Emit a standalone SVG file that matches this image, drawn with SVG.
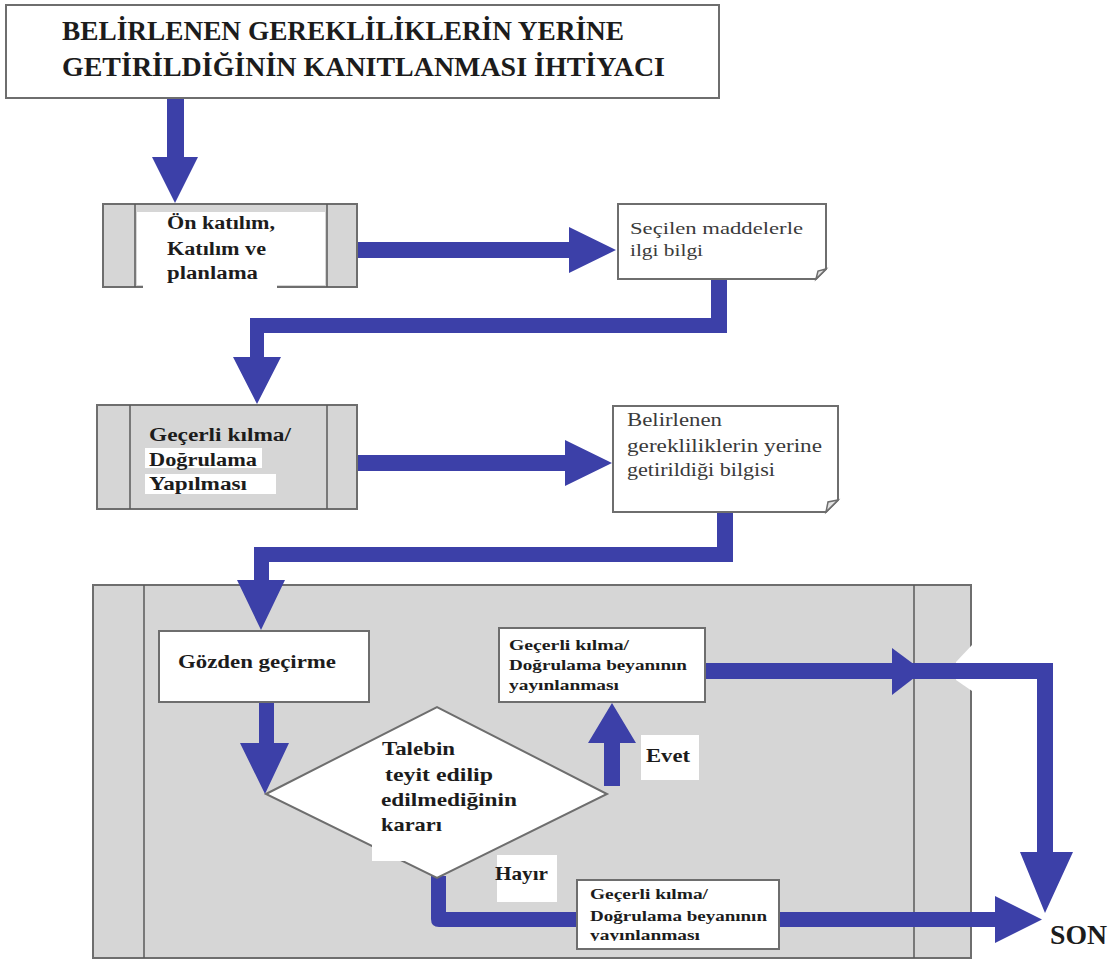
<svg xmlns="http://www.w3.org/2000/svg" width="1118" height="961" viewBox="0 0 1118 961">
<style>
.box{fill:#fff;stroke:#6e6e6e;stroke-width:2}
.gray{fill:#d6d6d6;stroke:#6e6e6e;stroke-width:2}
.ln{stroke:#5a5a5a;stroke-width:1.5;fill:none}
.arr{fill:#3c40a8}
.t{font-family:"Liberation Serif","DejaVu Serif",serif;font-weight:bold;fill:#1c1c1c}
.d{font-family:"Liberation Serif","DejaVu Serif",serif;fill:#3a3a3a}
.w{fill:#fff}
.fold{fill:#e4e4e4;stroke:#6e6e6e;stroke-width:1.5}
</style>
<defs>
<clipPath id="clipN"><rect x="577" y="880" width="202" height="61"/></clipPath>
</defs>
<rect x="0" y="0" width="1118" height="961" fill="#fff"/>

<g id="container">
<rect class="gray" x="93" y="585" width="878" height="373"/>
<line class="ln" x1="144" y1="585" x2="144" y2="958"/>
<line class="ln" x1="914" y1="585" x2="914" y2="958"/>
<polygon class="w" points="972,645 956,662 956,680 972,691"/>
</g>

<g id="connectors">
<polygon class="arr" points="167,99 184,99 184,157 198,157 175,203 152,157 167,157"/>
<polygon class="arr" points="357,242 569,242 569,227 616,250 569,273 569,258 357,258"/>
<polygon class="arr" points="711,279 727,279 727,333 264,333 264,357 281,357 257,404 233,357 250,357 250,318 711,318"/>
<polygon class="arr" points="357,455 565,455 565,440 612,463 565,486 565,471 357,471"/>
<polygon class="arr" points="717,512 733,512 733,562 269,562 269,580 285,580 261,630 237,580 254,580 254,547 717,547"/>
<polygon class="arr" points="259,701 274,701 274,743 289,743 265,794 240,743 259,743"/>
<polygon class="arr" points="604,786 620,786 620,743 636,743 612,703 588,743 604,743"/>
<path class="arr" d="M705,663 H1053 V852 H1073 L1045,913 L1020,852 H1037 V679 H705 Z"/>
<polygon class="arr" points="892,648 923,671 892,695"/>
<path class="arr" d="M431,876 H446 V912 H995 V896 L1042,919.5 L995,943 V927 H439 Q431,927 431,919 Z"/>
</g>

<g id="node-need">
<rect class="box" x="6" y="5" width="713" height="93"/>
<text class="t" x="62" y="40" font-size="27" textLength="562" lengthAdjust="spacingAndGlyphs">BELİRLENEN GEREKLİLİKLERİN YERİNE</text>
<text class="t" x="62" y="76" font-size="27" textLength="603" lengthAdjust="spacingAndGlyphs">GETİRİLDİĞİNİN KANITLANMASI İHTİYACI</text>
</g>

<g id="node-planning">
<rect class="gray" x="103" y="204" width="254" height="83"/>
<line class="ln" x1="135" y1="204" x2="135" y2="287"/>
<line class="ln" x1="327" y1="204" x2="327" y2="287"/>
<rect class="w" x="137" y="212" width="188" height="73"/>
<rect class="w" x="143" y="283" width="134" height="6"/>
<text class="t" x="167" y="229" font-size="18" textLength="108" lengthAdjust="spacingAndGlyphs">Ön katılım,</text>
<text class="t" x="167" y="255" font-size="18" textLength="99" lengthAdjust="spacingAndGlyphs">Katılım ve</text>
<text class="t" x="167" y="279" font-size="18" textLength="91" lengthAdjust="spacingAndGlyphs">planlama</text>
</g>

<g id="node-info1">
<path class="box" d="M618,204 H826 V269 L816,279 H618 Z"/>
<path class="fold" d="M816,279 L818,271 L826,269 Z"/>
<text class="d" x="630" y="234" font-size="17" textLength="173" lengthAdjust="spacingAndGlyphs">Seçilen maddelerle</text>
<text class="d" x="630" y="256" font-size="17" textLength="73" lengthAdjust="spacingAndGlyphs">ilgi bilgi</text>
</g>

<g id="node-validation">
<rect class="gray" x="97" y="405" width="260" height="104"/>
<line class="ln" x1="130" y1="405" x2="130" y2="509"/>
<line class="ln" x1="327" y1="405" x2="327" y2="509"/>
<rect class="w" x="145" y="448" width="117" height="20"/>
<rect class="w" x="145" y="474" width="131" height="20"/>
<text class="t" x="149" y="441" font-size="18" textLength="142" lengthAdjust="spacingAndGlyphs">Geçerli kılma/</text>
<text class="t" x="149" y="466" font-size="18" textLength="108" lengthAdjust="spacingAndGlyphs">Doğrulama</text>
<text class="t" x="149" y="490" font-size="18" textLength="98" lengthAdjust="spacingAndGlyphs">Yapılması</text>
</g>

<g id="node-info2">
<path class="box" d="M613,406 H838 V500 L826,512 H613 Z"/>
<path class="fold" d="M826,512 L828,502 L838,500 Z"/>
<text class="d" x="627" y="426" font-size="18" textLength="95" lengthAdjust="spacingAndGlyphs">Belirlenen</text>
<text class="d" x="627" y="452" font-size="18" textLength="195" lengthAdjust="spacingAndGlyphs">gerekliliklerin yerine</text>
<text class="d" x="627" y="476" font-size="18" textLength="148" lengthAdjust="spacingAndGlyphs">getirildiği bilgisi</text>
</g>

<g id="node-review">
<rect class="box" x="159" y="631" width="210" height="71"/>
<text class="t" x="178" y="668" font-size="18" textLength="158" lengthAdjust="spacingAndGlyphs">Gözden geçirme</text>
</g>

<g id="node-decision">
<polygon class="box" points="266,794 437,707 607,794 437,878"/>
<rect class="w" x="372" y="845" width="40" height="16"/>
<text class="t" x="382" y="755" font-size="19" textLength="73" lengthAdjust="spacingAndGlyphs">Talebin</text>
<text class="t" x="385" y="781" font-size="19" textLength="108" lengthAdjust="spacingAndGlyphs">teyit edilip</text>
<text class="t" x="381" y="806" font-size="19" textLength="136" lengthAdjust="spacingAndGlyphs">edilmediğinin</text>
<text class="t" x="381" y="831" font-size="19" textLength="61" lengthAdjust="spacingAndGlyphs">kararı</text>
</g>

<g id="label-evet">
<rect class="w" x="641" y="735" width="58" height="45"/>
<text class="t" x="646" y="762" font-size="19" textLength="44" lengthAdjust="spacingAndGlyphs">Evet</text>
</g>

<g id="label-hayir">
<rect class="w" x="497" y="855" width="60" height="47"/>
<text class="t" x="495" y="880" font-size="19" textLength="53" lengthAdjust="spacingAndGlyphs">Hayır</text>
</g>

<g id="node-publish-yes">
<rect class="box" x="499" y="628" width="206" height="74"/>
<text class="t" x="509" y="650" font-size="14.5" textLength="120" lengthAdjust="spacingAndGlyphs">Geçerli kılma/</text>
<text class="t" x="509" y="670" font-size="14.5" textLength="178" lengthAdjust="spacingAndGlyphs">Doğrulama beyanının</text>
<text class="t" x="509" y="690" font-size="14.5" textLength="110" lengthAdjust="spacingAndGlyphs">yayınlanması</text>
</g>

<g id="node-publish-no">
<rect class="box" x="577" y="880" width="202" height="69"/>
<g clip-path="url(#clipN)">
<text class="t" x="590" y="899" font-size="14.5" textLength="118" lengthAdjust="spacingAndGlyphs">Geçerli kılma/</text>
<text class="t" x="590" y="921" font-size="14.5" textLength="177" lengthAdjust="spacingAndGlyphs">Doğrulama beyanının</text>
<text class="t" x="590" y="940" font-size="14.5" textLength="110" lengthAdjust="spacingAndGlyphs">yayınlanması</text>
</g>
</g>

<g id="node-end">
<text class="t" x="1050" y="944" font-size="27" textLength="57" lengthAdjust="spacingAndGlyphs">SON</text>
</g>
</svg>
